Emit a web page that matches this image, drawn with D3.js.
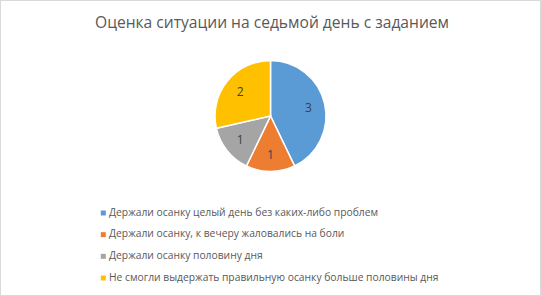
<!DOCTYPE html>
<html><head><meta charset="utf-8">
<script src="https://cdn.jsdelivr.net/npm/d3@7"></script>
<style>body{margin:0;background:#fff}</style>
</head><body>
<script>
const title = "Оценка ситуации на седьмой день с заданием";
const categories = [
  "Держали осанку целый день без каких-либо проблем",
  "Держали осанку, к вечеру жаловались на боли",
  "Держали осанку половину дня",
  "Не смогли выдержать правильную осанку больше половины дня"
];
const values = [3, 1, 1, 2];
const colors = ["#5B9BD5", "#ED7D31", "#A5A5A5", "#FFC000"];

const W = 541, H = 296;
const svg = d3.select("body").append("svg").attr("width", W).attr("height", H);
svg.append("rect").attr("x", 0.5).attr("y", 0.5).attr("width", W - 1).attr("height", H - 1)
  .attr("fill", "#fff").attr("stroke", "#d9d9d9");

const font = "Open Sans, Noto Sans, sans-serif";
svg.append("text").attr("x", 272).attr("y", 28).attr("text-anchor", "middle")
  .attr("font-family", font).attr("font-size", 16.5).attr("fill", "#595959")
  .attr("textLength", 354).attr("lengthAdjust", "spacingAndGlyphs").text(title);

const cx = 270.5, cy = 116, r = 55.5;
const pie = d3.pie().sort(null).value(d => d)(values);
const arc = d3.arc().innerRadius(0).outerRadius(r);
const g = svg.append("g").attr("transform", `translate(${cx},${cy})`);
g.selectAll("path").data(pie).join("path")
  .attr("d", arc).attr("fill", (d, i) => colors[i])
  .attr("stroke", "#fff").attr("stroke-width", 1.5);
const labelArc = d3.arc().innerRadius(r * 0.7).outerRadius(r * 0.7);
g.selectAll("text").data(pie).join("text")
  .attr("transform", d => `translate(${labelArc.centroid(d)})`)
  .attr("text-anchor", "middle").attr("dy", "0.35em")
  .attr("font-family", font).attr("font-size", 12).attr("fill", "#404040")
  .text(d => d.data);

const leg = svg.append("g");
const rowY = d3.scalePoint().domain(d3.range(categories.length)).range([212, 277]);
categories.forEach((c, i) => {
  const y = rowY(i);
  leg.append("rect").attr("x", 100.8).attr("y", y - 1.5).attr("width", 5).attr("height", 5).attr("fill", colors[i]);
  leg.append("text").attr("x", 109).attr("y", y).attr("dy", "0.35em")
    .attr("font-family", font).attr("font-size", 10.3).attr("fill", "#595959").text(c);
});
</script>
</body></html>
